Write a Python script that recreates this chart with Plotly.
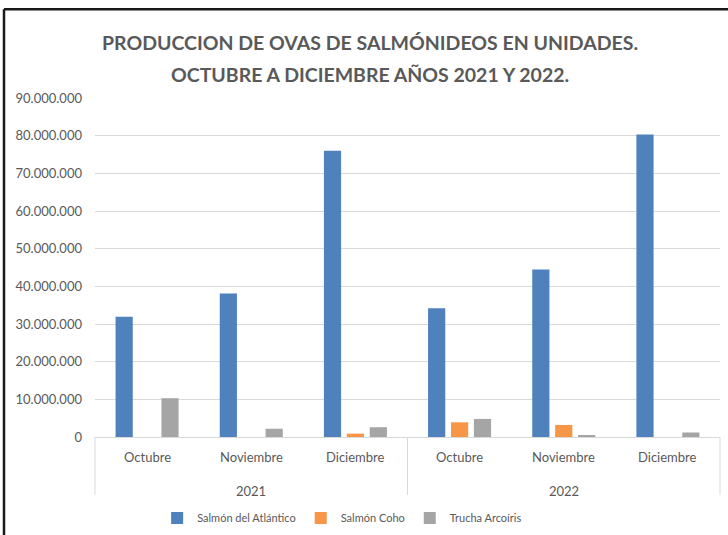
import plotly.graph_objects as go

years = ["2021", "2021", "2021", "2022", "2022", "2022"]
months = ["Octubre", "Noviembre", "Diciembre", "Octubre", "Noviembre", "Diciembre"]
year_labels = ["2021", "2022"]

atlantico = [31900000, 38100000, 76000000, 34200000, 44500000, 80300000]
coho = [0, 0, 900000, 3900000, 3200000, 0]
trucha = [10300000, 2200000, 2600000, 4800000, 350000, 1200000]

series = [
    ("Salmón del Atlántico", atlantico, "#4F81BD"),
    ("Salmón Coho", coho, "#F79646"),
    ("Trucha Arcoíris", trucha, "#A5A5A5"),
]

FONT = "Lato"
GRAY = "#595959"
LINE = "#D9D9D9"

fig = go.Figure()
for name, vals, col in series:
    fig.add_trace(go.Bar(
        x=[years, months], y=vals, name=name,
        marker=dict(color=col, line=dict(width=0)),
    ))

# pixel -> paper helpers (plot area 95..720 x 97..437)
def px(x):
    return (x - 95) / 625.0

def py(y):
    return (437 - y) / 340.0

# frame (left and top edges visible in the reference)
fig.add_shape(type="line", xref="paper", yref="paper",
              x0=px(4), x1=px(4), y0=py(540), y1=py(8),
              line=dict(color="#1a1a1a", width=2.5))
fig.add_shape(type="line", xref="paper", yref="paper",
              x0=px(4), x1=px(730), y0=py(8), y1=py(8),
              line=dict(color="#1a1a1a", width=2.5))

# category axis: group dividers and labels
n = len(months)
ngroups = len(year_labels)
for g in range(ngroups + 1):
    xd = g / ngroups
    fig.add_shape(type="line", xref="paper", yref="paper",
                  x0=xd, x1=xd, y0=0, y1=py(495),
                  line=dict(color=LINE, width=1))
for i, m in enumerate(months):
    fig.add_annotation(text=m, xref="paper", yref="paper",
                       x=(i + 0.5) / n, y=py(457), xanchor="center", yanchor="middle",
                       showarrow=False, font=dict(size=13, color=GRAY))
for g, yl in enumerate(year_labels):
    fig.add_annotation(text=yl, xref="paper", yref="paper",
                       x=(g + 0.5) / ngroups, y=py(491), xanchor="center", yanchor="middle",
                       showarrow=False, font=dict(size=13, color=GRAY))

# title lines
title_lines = ["PRODUCCION DE OVAS DE SALMÓNIDEOS EN UNIDADES.",
               "OCTUBRE A DICIEMBRE AÑOS 2021 Y 2022."]
for t, yy in zip(title_lines, [41, 73]):
    fig.add_annotation(text="<b>" + t + "</b>", xref="paper", yref="paper",
                       x=px(370), y=py(yy), xanchor="center", yanchor="middle",
                       showarrow=False, font=dict(size=19.5, color=GRAY, family=FONT))

fig.update_layout(
    width=728, height=535,
    margin=dict(l=95, r=8, t=98, b=98, autoexpand=False),
    paper_bgcolor="white", plot_bgcolor="white",
    separators=",.",
    barmode="group", bargap=0.34, bargroupgap=0.25,
    font=dict(family=FONT, color=GRAY, size=13),
    showlegend=True,
    legend=dict(orientation="h", x=0.47, xanchor="center", xref="container",
                y=(535 - 518) / 535, yref="container", yanchor="middle",
                font=dict(size=11, color=GRAY), itemwidth=30,
                traceorder="normal"),
    xaxis=dict(
        type="multicategory", automargin=False,
        showline=True, linecolor=LINE, linewidth=1,
        showdividers=False, showticklabels=False,
        showgrid=False, ticks="",
    ),
    yaxis=dict(
        automargin=False,
        range=[0, 90000000], dtick=10000000, tickformat=",d",
        showgrid=True, gridcolor=LINE, gridwidth=1,
        zeroline=False, showline=False,
        tickfont=dict(size=13, color=GRAY), ticks="", ticklabelstandoff=12,
    ),
)

fig.write_html("out.html", config={"displayModeBar": False},
               post_script="document.body.style.margin='0';document.body.style.overflow='hidden';")
